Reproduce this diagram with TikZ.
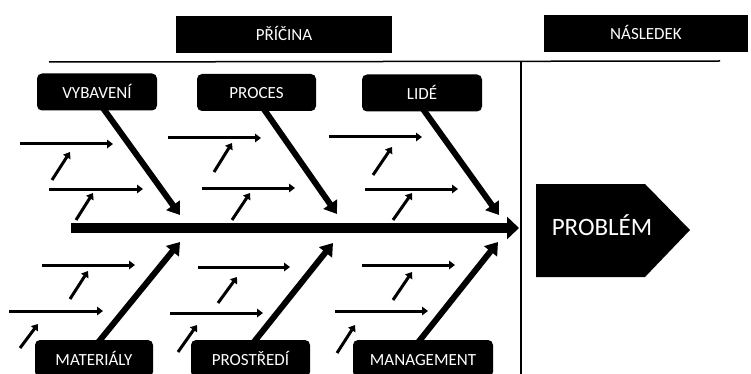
\documentclass[tikz,border=0pt]{standalone}
\usepackage{fontspec}
\setmainfont{Carlito}
\usepackage{tikz}
\usetikzlibrary{positioning}
\usetikzlibrary{arrows.meta}
\tikzset{header/.style={fill=black, text=white, minimum height=37pt, inner sep=0pt, text height=13pt, text depth=0pt, font=\fontsize{17}{18}\selectfont}}
\tikzset{cause/.style={header, rounded corners=5pt}}
\tikzset{bone/.style={line width=6pt, -{Triangle[length=12pt,width=16pt]}}}
\tikzset{twig/.style={line width=3pt, -{Triangle[length=6pt,width=8.5pt]}}}

\begin{document}
\begin{tikzpicture}[x=1pt,y=-1pt]
\useasboundingbox (0,0) rectangle (751,374);
\clip (0,0) rectangle (751,374);
% top headers
\node[header, minimum width=216pt] (pricina) at (284,34.5) {PŘÍČINA};
\node[header, minimum width=204pt] (nasledek) at (646,33.5) {NÁSLEDEK};
\draw[line width=1.5pt] (49,62) -- (720,61);
\draw[line width=1.5pt] (521,61) -- (521,374);
% causes
\node[cause, minimum width=120pt] (vyb) at (97,92) {VYBAVENÍ};
\node[cause, minimum width=119pt] (proc) at (256.5,92.5) {PROCES};
\node[cause, minimum width=120pt] (lide) at (422,93) {LIDÉ};
\node[cause, minimum width=118pt] (mat) at (94,358.5) {MATERIÁLY};
\node[cause, minimum width=119pt] (prost) at (250.5,358.5) {PROSTŘEDÍ};
\node[cause, minimum width=140pt] (man) at (423,358.5) {MANAGEMENT};
% effect
\fill (536,184) -- (645,184) -- (690,230) -- (645,277) -- (536,277) -- cycle;
\node[text=white, font=\fontsize{25}{28}\selectfont] (problem) at (602,225) {PROBLÉM};
% spine
\coordinate (tail) at (71,228);
\coordinate (head) at (519,228);
\draw[line width=10pt, -{Triangle[length=12pt,width=22pt]}] (tail) -- (head);
% bones
\coordinate (vybtip) at (180,215);
\coordinate (proctip) at (337,214);
\coordinate (lidetip) at (499,215);
\coordinate (mattip) at (180,242);
\coordinate (prosttip) at (333,243);
\coordinate (mantip) at (498,242);
\draw[bone] ([xshift=5pt,yshift=4pt]vyb.south) -- (vybtip);
\draw[bone] ([xshift=6pt,yshift=4pt]proc.south) -- (proctip);
\draw[bone] ([xshift=0pt,yshift=4pt]lide.south) -- (lidetip);
\draw[bone] ([xshift=3pt,yshift=-4pt]mat.north) -- (mattip);
\draw[bone] ([xshift=2pt,yshift=-4pt]prost.north) -- (prosttip);
\draw[bone] ([xshift=-6pt,yshift=-4pt]man.north) -- (mantip);
% small arrows
\foreach \xa/\ya/\xb/\yb in {20/144/113/144, 52/180/70/152, 49/189/143/189, 76/220/93/193,
  168/138/261/138, 214/172/232/143, 202/188/295/188, 232/220/250/193,
  329/137/422/137, 373/175/392/147, 365/189/458/189, 393/220/412/193,
  42/265/135/265, 70/299/88/271, 9/311/103/311, 20/348/38/324,
  198/267/290/267, 218/303/237/277, 170/313/263/313, 178/352/197/325,
  362/265/455/265, 393/300/412/272, 335/311/428/311, 337/353/355/325}
  \draw[twig] (\xa,\ya) -- (\xb,\yb);
\end{tikzpicture}
\end{document}
